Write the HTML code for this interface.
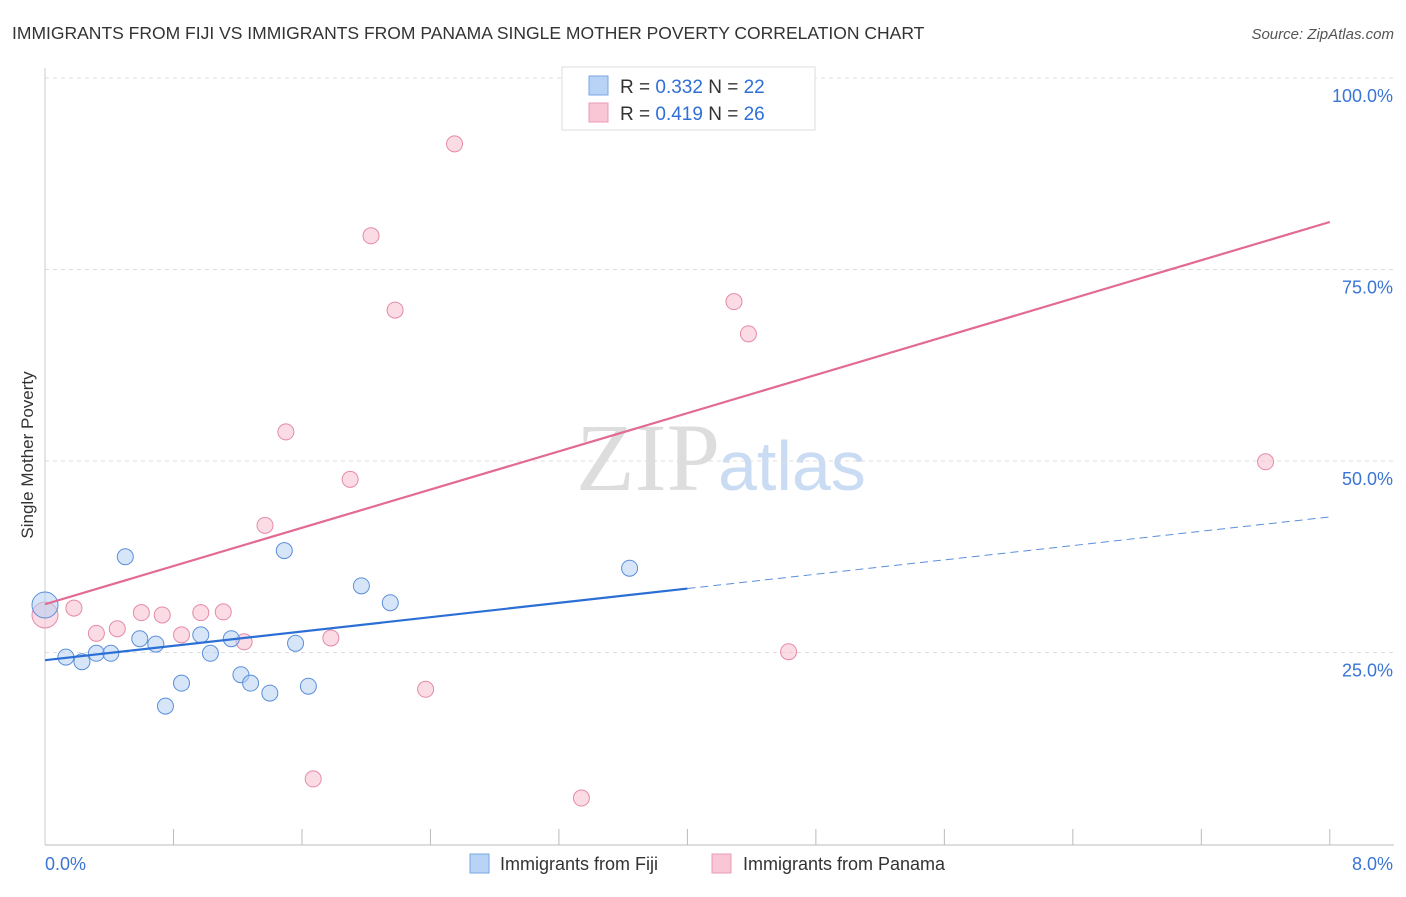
<!DOCTYPE html>
<html><head><meta charset="utf-8"><style>
body{margin:0;background:#fff;font-family:"Liberation Sans",sans-serif;}
</style></head><body>
<svg width="1406" height="892" xmlns="http://www.w3.org/2000/svg" id="svg">
<text x="12" y="39" font-size="17.5" fill="#333">IMMIGRANTS FROM FIJI VS IMMIGRANTS FROM PANAMA SINGLE MOTHER POVERTY CORRELATION CHART</text>
<text x="1394" y="39" font-size="15" fill="#555" font-style="italic" text-anchor="end">Source: ZipAtlas.com</text>
<text x="720" y="490" font-size="96" fill="#ddd" font-family="Liberation Serif,serif" text-anchor="end">ZIP</text>
<text x="718" y="490" font-size="70" fill="#c9dcf3">atlas</text>
<text x="33" y="455" font-size="17" fill="#333" transform="rotate(-90 33 455)" text-anchor="middle">Single Mother Poverty</text>
<g id="grid"></g><g id="marks"></g>
<g>
<rect x="562" y="67" width="253" height="63" fill="#fff" stroke="#ddd"/>
<rect x="589" y="76" width="19" height="19" fill="#b8d3f5" stroke="#7aa6e0"/>
<rect x="589" y="103" width="19" height="19" fill="#f9c6d6" stroke="#e99ab5"/>
<text x="620" y="93" font-size="19" fill="#333">R = <tspan fill="#2f6fd6">0.332</tspan>   N = <tspan fill="#2f6fd6">22</tspan></text>
<text x="620" y="120" font-size="19" fill="#333">R = <tspan fill="#2f6fd6"> 0.419</tspan>   N = <tspan fill="#2f6fd6">26</tspan></text>
</g>
<g>
<rect x="470" y="854" width="19" height="19" fill="#b8d3f5" stroke="#7aa6e0"/>
<text x="500" y="870" font-size="18" fill="#333">Immigrants from Fiji</text>
<rect x="712" y="854" width="19" height="19" fill="#f9c6d6" stroke="#e99ab5"/>
<text x="743" y="870" font-size="18" fill="#333">Immigrants from Panama</text>
</g>
</svg>
<script>
const fijiX=[0.0,0.13,0.23,0.32,0.41,0.50,0.59,0.69,0.75,0.85,0.97,1.03,1.16,1.22,1.28,1.40,1.49,1.56,1.64,1.97,2.15,3.64];
const fijiY=[31.2,24.4,23.8,24.9,24.9,37.5,26.8,26.1,18.0,21.0,27.3,24.9,26.8,22.1,21.0,19.7,38.3,26.2,20.6,33.7,31.5,36.0];
const panX=[0.0,0.18,0.32,0.45,0.60,0.73,0.85,0.97,1.11,1.24,1.37,1.50,1.67,1.78,1.90,2.03,2.18,2.37,2.55,3.34,3.68,4.20,4.29,4.38,4.63,7.60];
const panY=[29.9,30.8,27.5,28.1,30.2,29.9,27.3,30.2,30.3,26.4,41.6,53.8,8.5,26.9,47.6,79.4,69.7,20.2,91.4,6.0,99.9,99.9,70.8,66.6,25.1,49.9];
const fijiLine=[24.0,42.7]; // value at x=0 and x=8
const panLine=[31.3,81.2];
const yTicks=[25,50,75,100];
const yTickLabels=["25.0%","50.0%","75.0%","100.0%"];
const NS="http://www.w3.org/2000/svg";
const sx=v=>45+v*160.6, sy=v=>844-v*7.66;
function mk(t,a,p){const e=document.createElementNS(NS,t);for(const k in a)e.setAttribute(k,a[k]);p.appendChild(e);return e;}
const g=document.getElementById('grid'),m=document.getElementById('marks');
yTicks.forEach((t,i)=>{
 const l=mk('line',{x1:45,x2:1394,y1:sy(t),y2:sy(t),stroke:'#ddd','stroke-dasharray':'4,4'},g);
 
 
 const tx=mk('text',{x:1393,y:sy(t)+24,'font-size':18,fill:'#3a75d6','text-anchor':'end'},g);
 tx.textContent=yTickLabels[i];
 
 
});
let ax=mk('line',{x1:45,x2:1394,y1:845,y2:845,stroke:'#bbb'},g);


let ay=mk('line',{x1:45,x2:45,y1:68,y2:845,stroke:'#ccc'},g);


for(let i=1;i<=10;i++){const x=sx(i*0.8);const t=mk('line',{x1:x,x2:x,y1:829,y2:845,stroke:'#bbb'},g);
 
 }
[["0.0%",45,'start'],["8.0%",1393,'end']].forEach(d=>{const t=mk('text',{x:d[1],y:870,'font-size':18,fill:'#3a75d6','text-anchor':d[2]},g);t.textContent=d[0];
 
 });
function pts(X,Y,fill,stroke,name){X.forEach((x,i)=>{const c=mk('circle',{cx:sx(x),cy:sy(Y[i]),r:i==0?13:8,fill:fill,stroke:stroke,'stroke-width':1,'fill-opacity':0.55},m);
 
 });}
pts(panX,panY,'#f7bfd0','#e48aa8','panama-point');
pts(fijiX,fijiY,'#b5d0f3','#5b8fd9','fiji-point');
const f=v=>fijiLine[0]+(fijiLine[1]-fijiLine[0])*v/8, p=v=>panLine[0]+(panLine[1]-panLine[0])*v/8;
let l1=mk('line',{x1:sx(0),y1:sy(f(0)),x2:sx(4),y2:sy(f(4)),stroke:'#2b6fd6','stroke-width':2.2},m);


let l2=mk('line',{x1:sx(4),y1:sy(f(4)),x2:sx(8),y2:sy(f(8)),stroke:'#5b8fd9','stroke-width':1,'stroke-dasharray':'8,5'},m);


let l3=mk('line',{x1:sx(0),y1:sy(p(0)),x2:sx(8),y2:sy(p(8)),stroke:'#e26a93','stroke-width':2.2},m);


</script>
</body></html>
